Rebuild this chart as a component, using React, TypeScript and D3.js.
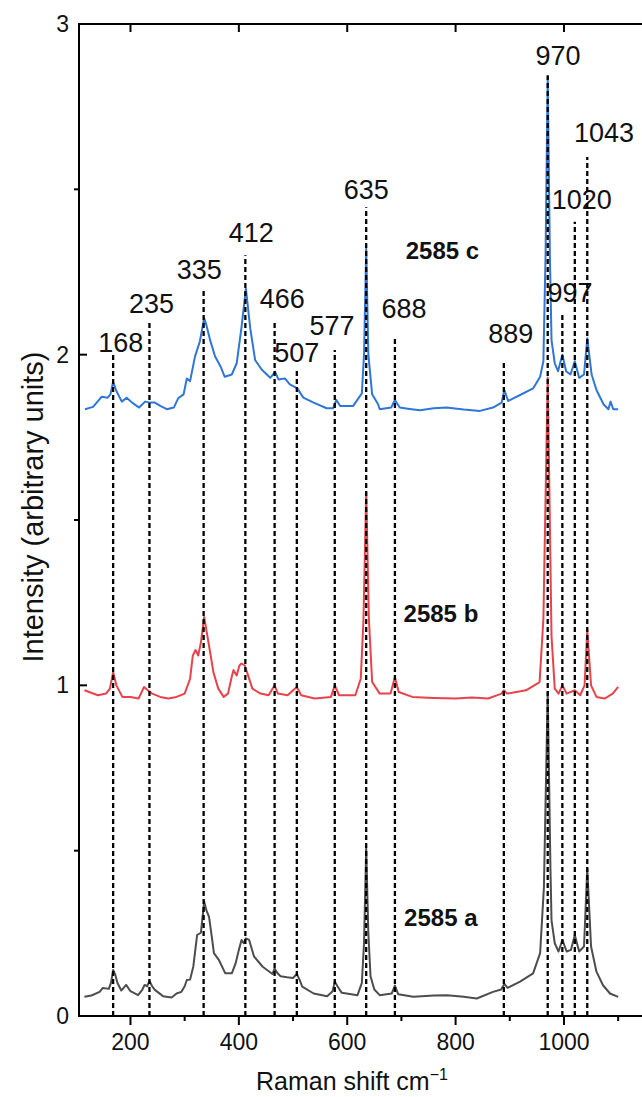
import React from 'react';
import * as d3 from 'd3';

// spectra: [Raman shift, intensity] (offset already included)
const spectrumA: [number, number][] = [
  [115, 0.058], [128, 0.062], [143, 0.073], [149, 0.085], [160, 0.082], [164, 0.1], [168, 0.139],
  [172, 0.125], [176, 0.1], [183, 0.077], [192, 0.094], [200, 0.075], [214, 0.063], [222, 0.08],
  [226, 0.094], [231, 0.09], [235, 0.106], [240, 0.09], [245, 0.079], [260, 0.06], [276, 0.056],
  [285, 0.068], [294, 0.073], [300, 0.09], [304, 0.109], [310, 0.11], [316, 0.15], [323, 0.245],
  [330, 0.252], [336, 0.346], [340, 0.32], [345, 0.3], [350, 0.24], [354, 0.19], [363, 0.17],
  [375, 0.129], [387, 0.129], [394, 0.159], [400, 0.2], [405, 0.23], [409, 0.22], [413, 0.235],
  [419, 0.23], [428, 0.18], [444, 0.149], [462, 0.127], [466, 0.144], [471, 0.13], [477, 0.12],
  [489, 0.117], [500, 0.115], [507, 0.127], [512, 0.11], [517, 0.089], [538, 0.068], [563, 0.06],
  [573, 0.075], [577, 0.104], [582, 0.09], [590, 0.07], [619, 0.063], [627, 0.1], [631, 0.22],
  [635, 0.507], [639, 0.25], [643, 0.12], [650, 0.08], [660, 0.063], [682, 0.068], [688, 0.092],
  [694, 0.066], [722, 0.058], [760, 0.062], [784, 0.063], [815, 0.058], [839, 0.053], [869, 0.073],
  [884, 0.08], [890, 0.097], [896, 0.085], [919, 0.104], [943, 0.129], [956, 0.19], [963, 0.39],
  [970, 0.98], [975, 0.45], [977, 0.29], [983, 0.22], [990, 0.195], [997, 0.23], [1005, 0.195],
  [1013, 0.2], [1020, 0.245], [1028, 0.195], [1037, 0.21], [1043, 0.447], [1050, 0.21], [1060, 0.134],
  [1072, 0.093], [1085, 0.068], [1100, 0.058],
];

const spectrumB: [number, number][] = [
  [115, 0.985], [140, 0.97], [155, 0.975], [162, 0.99], [168, 1.04], [174, 1.0], [185, 0.965],
  [200, 0.965], [215, 0.96], [225, 0.995], [232, 0.985], [240, 0.975], [255, 0.965], [270, 0.96],
  [285, 0.965], [300, 0.975], [310, 1.02], [315, 1.09], [320, 1.107], [325, 1.09], [330, 1.13],
  [336, 1.207], [341, 1.158], [347, 1.1], [353, 1.04], [362, 0.99], [372, 0.965], [380, 0.975],
  [386, 1.02], [390, 1.046], [396, 1.03], [401, 1.06], [405, 1.066], [411, 1.06], [417, 1.03],
  [425, 0.99], [440, 0.975], [455, 0.97], [466, 1.0], [472, 0.975], [490, 0.97], [507, 0.995],
  [515, 0.97], [540, 0.96], [570, 0.965], [577, 1.0], [585, 0.97], [615, 0.97], [625, 1.02],
  [630, 1.2], [635, 1.585], [640, 1.2], [646, 1.01], [660, 0.975], [680, 0.975], [688, 1.025],
  [695, 0.98], [720, 0.965], [760, 0.962], [800, 0.96], [830, 0.963], [860, 0.96], [885, 0.975],
  [889, 0.985], [895, 0.975], [930, 0.985], [955, 1.01], [962, 1.2], [970, 1.93], [977, 1.15],
  [983, 0.99], [990, 0.975], [997, 1.0], [1005, 0.975], [1020, 0.985], [1030, 0.97], [1038, 1.0],
  [1043, 1.167], [1050, 1.0], [1060, 0.965], [1075, 0.96], [1090, 0.975], [1100, 0.995],
];

const spectrumC: [number, number][] = [
  [116, 1.835], [131, 1.842], [147, 1.873], [158, 1.87], [163, 1.88], [168, 1.918], [174, 1.89],
  [184, 1.858], [193, 1.87], [203, 1.855], [216, 1.84], [227, 1.858], [236, 1.855], [245, 1.855],
  [255, 1.845], [267, 1.835], [280, 1.84], [288, 1.868], [298, 1.88], [304, 1.928], [310, 1.92],
  [319, 1.994], [328, 2.04], [336, 2.11], [340, 2.09], [347, 2.044], [356, 1.995], [366, 1.965],
  [374, 1.933], [387, 1.94], [396, 1.974], [405, 2.084], [413, 2.2], [421, 2.08], [430, 1.984],
  [442, 1.955], [458, 1.93], [467, 1.948], [473, 1.925], [485, 1.928], [494, 1.91], [508, 1.898],
  [519, 1.87], [538, 1.855], [562, 1.838], [574, 1.838], [580, 1.863], [587, 1.845], [611, 1.845],
  [627, 1.883], [631, 2.0], [635, 2.32], [639, 2.0], [646, 1.88], [657, 1.85], [660, 1.835],
  [681, 1.84], [688, 1.863], [697, 1.84], [715, 1.836], [734, 1.832], [760, 1.838], [783, 1.84],
  [815, 1.834], [845, 1.83], [869, 1.84], [885, 1.855], [890, 1.893], [897, 1.86], [919, 1.878],
  [943, 1.898], [956, 1.933], [962, 1.98], [966, 2.3], [970, 2.84], [974, 2.3], [977, 2.044],
  [983, 1.974], [989, 1.95], [997, 2.0], [1004, 1.95], [1012, 1.94], [1020, 1.98], [1028, 1.93],
  [1037, 1.94], [1043, 2.05], [1051, 1.94], [1060, 1.893], [1073, 1.85], [1082, 1.835],
  [1086, 1.858], [1091, 1.835], [1100, 1.835],
];

const sampleNames = ['2585 a', '2585 b', '2585 c'];
const sampleColors = ['#4d4d4d', '#e8434a', '#2f76d6'];
const sampleLabelX = [705, 704, 708];
const sampleLabelY = [0.272, 1.192, 2.289];

const peakShifts = [168, 235, 335, 412, 466, 507, 577, 635, 688, 889, 970, 997, 1020, 1043];
const peakLineTops = [2.0, 2.099, 2.197, 2.301, 2.099, 1.96, 2.014, 2.446, 2.049, 1.984, 2.845, 2.12, 2.402, 2.598];
const peakLabelX = [182, 239, 327, 423, 480, 507, 572, 635, 705, 902, 989, 1011, 1033, 1074];
const peakLabelY = [2.008, 2.126, 2.229, 2.34, 2.141, 1.978, 2.059, 2.47, 2.11, 2.034, 2.876, 2.16, 2.442, 2.644];

const xMajor = [200, 400, 600, 800, 1000];
const xMinor = [300, 500, 700, 900, 1100];
const yMajor = [0, 1, 2, 3];
const yMinor = [0.5, 1.5, 2.5];

const W = 642;
const H = 1097;
const left = 79;
const top = 24;
const bottom = 1016;
const font = '"Liberation Sans", Arial, sans-serif';

const App = () => {
  const x = d3.scaleLinear().domain([105, 1144]).range([left, W]);
  const y = d3.scaleLinear().domain([0, 3]).range([bottom, top]);
  const line = d3.line<[number, number]>().x(d => x(d[0])).y(d => y(d[1]));
  const spectra = [spectrumA, spectrumB, spectrumC];

  return (
    <svg width={W} height={H} style={{ position: 'absolute', left: 0, top: 0 }} fontFamily={font}>
      {spectra.map((s, i) => (
        <path key={i} d={line(s) || ''} fill="none" stroke={sampleColors[i]} strokeWidth={2} strokeLinejoin="round" />
      ))}

      {peakShifts.map((p, i) => (
        <g key={p}>
          <line x1={x(p)} x2={x(p)} y1={y(0)} y2={y(peakLineTops[i])} stroke="#000" strokeWidth={2.3} strokeDasharray="5,3" />
          <text x={x(peakLabelX[i])} y={y(peakLabelY[i])} textAnchor="middle" fontSize={27} fill="#111">{p}</text>
        </g>
      ))}

      {sampleNames.map((n, i) => (
        <text key={n} x={x(sampleLabelX[i])} y={y(sampleLabelY[i])} fontSize={24} fontWeight="bold" fill="#111">{n}</text>
      ))}

      {/* frame */}
      <line x1={left} x2={W} y1={top} y2={top} stroke="#000" strokeWidth={2} />
      <line x1={left} x2={W} y1={bottom} y2={bottom} stroke="#000" strokeWidth={2} />
      <line x1={left} x2={left} y1={top - 1} y2={bottom + 1} stroke="#000" strokeWidth={2} />

      {xMajor.map(t => (
        <g key={t}>
          <line x1={x(t)} x2={x(t)} y1={bottom} y2={bottom + 9} stroke="#000" strokeWidth={2} />
          <line x1={x(t)} x2={x(t)} y1={top} y2={top + 8} stroke="#000" strokeWidth={2} />
          <text x={x(t)} y={1050} textAnchor="middle" fontSize={23} fill="#111">{t}</text>
        </g>
      ))}
      {xMinor.map(t => (
        <line key={t} x1={x(t)} x2={x(t)} y1={bottom} y2={bottom + 5} stroke="#000" strokeWidth={2} />
      ))}
      {yMajor.map(t => (
        <g key={t}>
          <line x1={left} x2={left + 8} y1={y(t)} y2={y(t)} stroke="#000" strokeWidth={2} />
          <text x={left - 10} y={y(t)} dy="0.35em" textAnchor="end" fontSize={23} fill="#111">{t}</text>
        </g>
      ))}
      {yMinor.map(t => (
        <line key={t} x1={left - 5} x2={left} y1={y(t)} y2={y(t)} stroke="#000" strokeWidth={2} />
      ))}

      <text x={352} y={1090} textAnchor="middle" fontSize={25} fill="#111">
        Raman shift cm<tspan dy={-10} fontSize={16}>−1</tspan>
      </text>
      <text transform={`translate(43,507) rotate(-90)`} textAnchor="middle" fontSize={29} fill="#111">
        Intensity (arbitrary units)
      </text>
    </svg>
  );
};

export default App;
